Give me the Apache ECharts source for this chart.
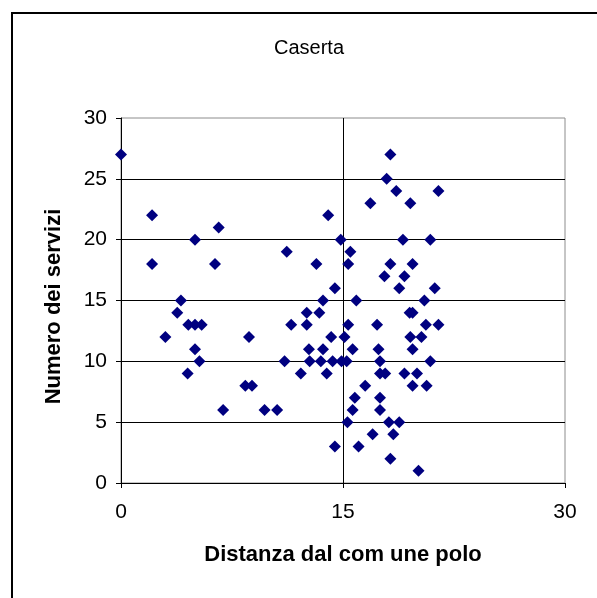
<!DOCTYPE html>
<html lang="it">
<head>
    <meta charset="UTF-8">
    <title>Caserta</title>
    <style>
        html, body { margin: 0; padding: 0; background: #fff; }
    </style>
</head>
<body>
    <div id="main" style="width: 597px;height:598px;"></div>
    <script src="https://cdn.jsdelivr.net/npm/echarts@6/dist/echarts.min.js"></script>
    <script>

// distanza dal comune polo (x) e numero dei servizi (y)
var distanza = [
    0, 2.1, 2.1, 3.0, 3.8, 4.05, 4.5, 4.55, 5.0, 5.0,
    5.0, 5.3, 5.45, 6.35, 6.6, 6.9, 8.4, 8.65, 8.85, 9.7,
    10.55, 11.05, 11.2, 11.5, 12.15, 12.55, 12.55, 12.7, 12.75, 13.2,
    13.4, 13.5, 13.65, 13.65, 13.9, 14.0, 14.2, 14.3, 14.45, 14.45,
    14.85, 14.9, 15.1, 15.25, 15.3, 15.35, 15.35, 15.5, 15.65, 15.65,
    15.8, 15.9, 16.05, 16.5, 16.85, 17.0, 17.3, 17.4, 17.5, 17.5,
    17.5, 17.5, 17.8, 17.85, 17.95, 18.1, 18.2, 18.2, 18.2, 18.4,
    18.6, 18.8, 18.8, 19.05, 19.15, 19.15, 19.55, 19.55, 19.5, 19.7,
    19.7, 19.7, 19.7, 20.0, 20.1, 20.3, 20.5, 20.6, 20.65, 20.9,
    20.9, 21.2, 21.45, 21.45
];
var servizi = [
    27, 22, 18, 12, 14, 15, 9, 13, 13, 20,
    11, 10, 13, 18, 21, 6, 8, 12, 8, 6,
    6, 10, 19, 13, 9, 14, 13, 11, 10, 18,
    14, 10, 15, 11, 9, 22, 12, 10, 16, 3,
    20, 10, 12, 10, 5, 13, 18, 19, 11, 6,
    7, 15, 3, 8, 23, 4, 13, 11, 10, 9,
    7, 6, 17, 9, 25, 5, 27, 18, 2, 4,
    24, 16, 5, 20, 17, 9, 23, 12, 14, 14,
    18, 11, 8, 9, 1, 12, 15, 13, 8, 20,
    10, 16, 24, 13
];
var xTicks = [0, 15, 30];
var yTicks = [0, 5, 10, 15, 20, 25, 30];

var punti = distanza.map(function (d, i) { return [d, servizi[i]]; });

var font = 'Liberation Sans, Arial, sans-serif';

var option = {
    backgroundColor: '#fff',
    animation: false,
    title: {
        text: 'Caserta',
        left: 304,
        top: 33,
        textAlign: 'center',
        textStyle: { fontFamily: font, fontSize: 20, fontWeight: 'normal', color: '#000' }
    },
    graphic: [{
        type: 'rect',
        shape: { x: 12, y: 13, width: 640, height: 640 },
        style: { fill: 'none', stroke: '#000', lineWidth: 2 },
        silent: true
    }],
    grid: {
        left: 121,
        right: 32,
        top: 118,
        bottom: 115,
        show: true,
        borderColor: '#8c8c8c',
        borderWidth: 1
    },
    xAxis: {
        type: 'value',
        min: xTicks[0],
        max: xTicks[xTicks.length - 1],
        interval: 15,
        name: 'Distanza dal com une polo',
        nameLocation: 'middle',
        nameGap: 61,
        nameTextStyle: { fontFamily: font, fontSize: 22, fontWeight: 'bold', color: '#000' },
        axisLine: { lineStyle: { color: '#000', width: 1 } },
        axisTick: { show: true, length: 5, lineStyle: { color: '#000' } },
        axisLabel: { fontFamily: font, fontSize: 21, color: '#000', margin: 19 },
        splitLine: { show: true, showMinLine: false, showMaxLine: false, lineStyle: { color: '#000', width: 1 } }
    },
    yAxis: {
        type: 'value',
        min: yTicks[0],
        max: yTicks[yTicks.length - 1],
        interval: 5,
        name: 'Numero dei servizi',
        nameLocation: 'middle',
        nameGap: 56,
        nameTextStyle: { fontFamily: font, fontSize: 22, fontWeight: 'bold', color: '#000', padding: [0, 12, 0, 0] },
        axisLine: { show: true, lineStyle: { color: '#000', width: 1 } },
        axisTick: { show: true, length: 5, lineStyle: { color: '#000' } },
        axisLabel: { fontFamily: font, fontSize: 21, color: '#000', margin: 14 },
        splitLine: { show: true, showMinLine: false, showMaxLine: false, lineStyle: { color: '#000', width: 1 } }
    },
    series: [{
        name: 'Caserta',
        type: 'scatter',
        symbol: 'diamond',
        symbolSize: [12, 12],
        itemStyle: { color: '#000080', opacity: 1 },
        data: punti
    }]
};

var myChart = echarts.init(document.getElementById('main'));
myChart.setOption(option);

    </script>
</body>
</html>
